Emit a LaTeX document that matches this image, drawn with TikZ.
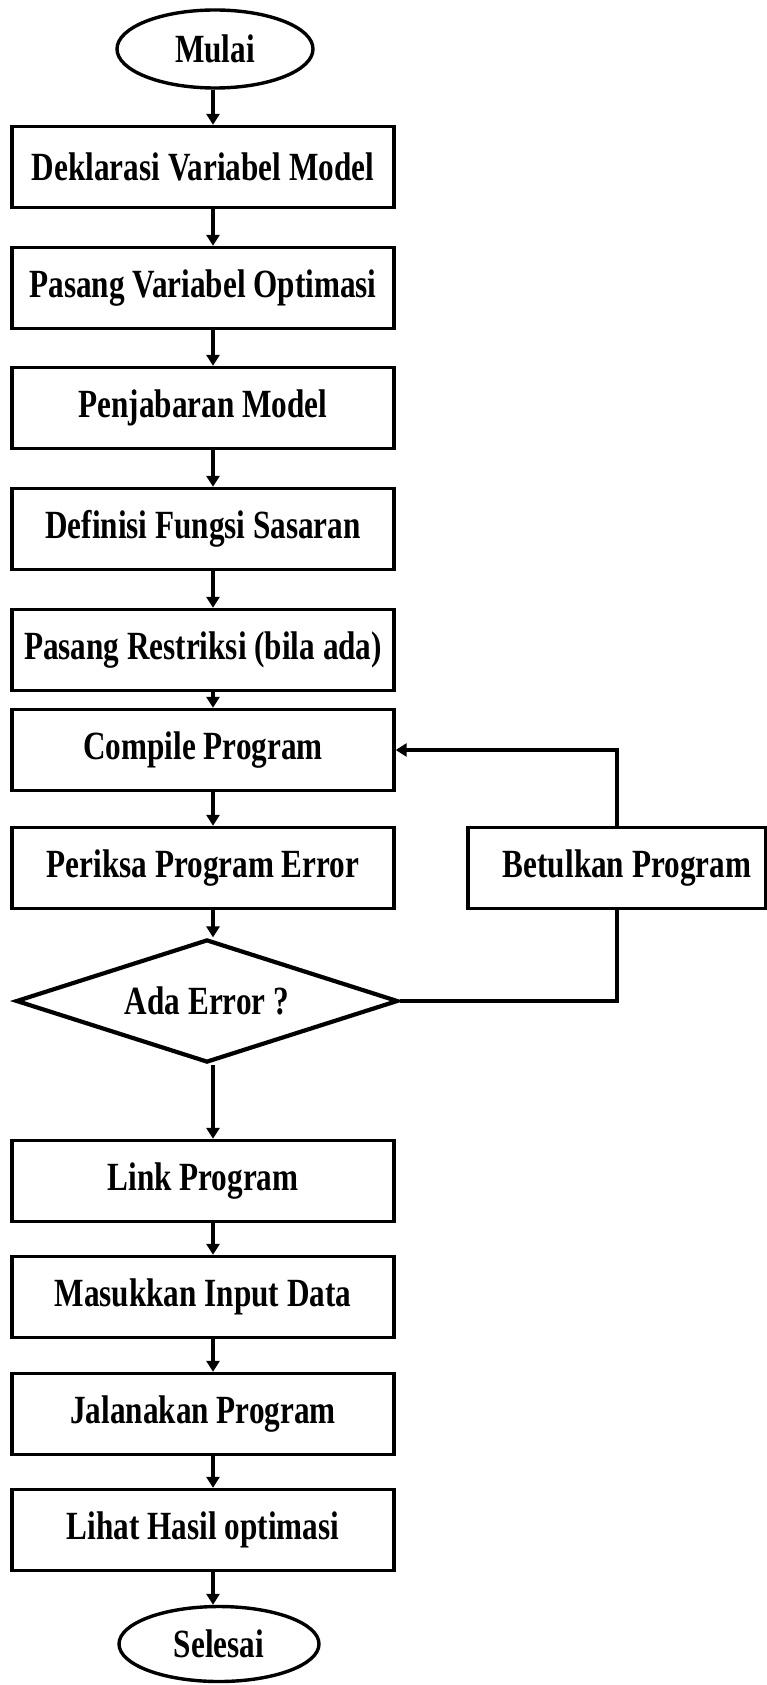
\documentclass[tikz,border=0pt]{standalone}
\usepackage{fontspec}
\setmainfont{Liberation Serif}[FakeStretch=0.78]
\usetikzlibrary{shapes.geometric, arrows.meta}

\begin{document}
\begin{tikzpicture}[x=1pt, y=-1pt, line width=3.4pt, >={Triangle[length=11pt, width=13pt]},
    proses/.style={draw, minimum width=382pt, minimum height=81pt, inner sep=0pt,
        font=\bfseries\fontsize{40}{44}\selectfont},
    terminal/.style={draw, ellipse, minimum width=196pt, minimum height=78pt, inner sep=0pt,
        font=\bfseries\fontsize{40}{44}\selectfont},
    cabang/.style={draw, diamond, aspect=3.1, line width=4.2pt, minimum width=382pt,
        minimum height=123pt, inner sep=0pt, font=\bfseries\fontsize{40}{44}\selectfont}]
    \useasboundingbox (0,0) rectangle (767,1685);
    % Arrow column
    \coordinate (col) at (213,0);
    % Start
    \node[terminal] (mulai) at (215,49) {Mulai};
    % Main steps
    \node[proses] (dekl) at (203,167) {Deklarasi Variabel Model};
    \node[proses] (pasang) at (203,288) {Pasang Variabel Optimasi};
    \node[proses] (jabar) at (203,408) {Penjabaran Model};
    \node[proses] (fungsi) at (203,529) {Definisi Fungsi Sasaran};
    \node[proses] (restr) at (203,650) {Pasang Restriksi (bila ada)};
    \node[proses] (comp) at (203,750) {Compile Program};
    \node[proses] (periksa) at (203,868) {Periksa Program Error};
    \node[proses, minimum width=298pt] (betul) at (617,868) {\hspace*{20pt}Betulkan Program};
    % Decision
    \node[cabang] (error) at (207,1001) {Ada Error ?};
    % Run steps
    \node[proses] (link) at (203,1181) {Link Program};
    \node[proses] (input) at (203,1297) {Masukkan Input Data};
    \node[proses] (jalan) at (203,1414) {Jalanakan Program};
    \node[proses] (hasil) at (203,1530) {Lihat Hasil optimasi};
    % End
    \node[terminal, minimum width=200pt, minimum height=75pt] (selesai) at (219,1644) {Selesai};
    % Flow down
    \draw[->] (mulai.south -| col) -- (dekl.north -| col);
    \draw[->] (dekl.south -| col) -- (pasang.north -| col);
    \draw[->] (pasang.south -| col) -- (jabar.north -| col);
    \draw[->] (jabar.south -| col) -- (fungsi.north -| col);
    \draw[->] (fungsi.south -| col) -- (restr.north -| col);
    \draw[->] (restr.south -| col) -- (comp.north -| col);
    \draw[->] (comp.south -| col) -- (periksa.north -| col);
    \draw[->] (periksa.south -| col) -- (error.north -| col);
    \draw[->] (error.south -| col) -- (link.north -| col);
    \draw[->] (link.south -| col) -- (input.north -| col);
    \draw[->] (input.south -| col) -- (jalan.north -| col);
    \draw[->] (jalan.south -| col) -- (hasil.north -| col);
    \draw[->] (hasil.south -| col) -- (selesai.north -| col);
    % Error loop
    \draw (error.east) -| (betul.south);
    \draw[->] (betul.north) |- (comp.east);
\end{tikzpicture}
\end{document}
